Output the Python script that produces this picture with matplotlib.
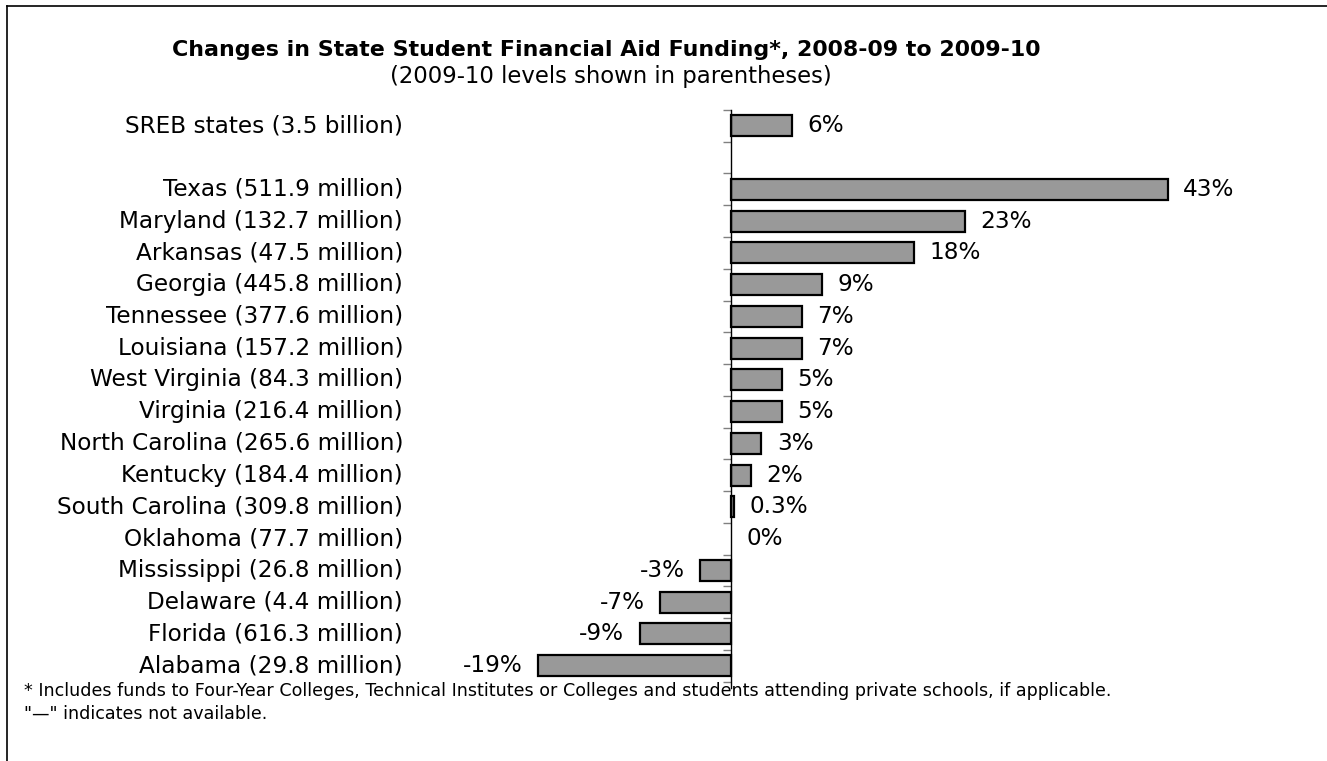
import matplotlib
matplotlib.use('Agg')
import matplotlib.pyplot as plt
from matplotlib.lines import Line2D
import matplotlib.transforms as mtransforms

plt.rcParams['font.family'] = ['DejaVu Sans']

# data (top to bottom, None = blank spacer row)
states = ['SREB states (3.5 billion)', None,
          'Texas (511.9 million)', 'Maryland (132.7 million)', 'Arkansas (47.5 million)',
          'Georgia (445.8 million)', 'Tennessee (377.6 million)', 'Louisiana (157.2 million)',
          'West Virginia (84.3 million)', 'Virginia (216.4 million)',
          'North Carolina (265.6 million)', 'Kentucky (184.4 million)',
          'South Carolina (309.8 million)', 'Oklahoma (77.7 million)',
          'Mississippi (26.8 million)', 'Delaware (4.4 million)',
          'Florida (616.3 million)', 'Alabama (29.8 million)']
changes = [6, None, 43, 23, 18, 9, 7, 7, 5, 5, 3, 2, 0.3, 0, -3, -7, -9, -19]
value_labels = ['6%', None, '43%', '23%', '18%', '9%', '7%', '7%', '5%', '5%',
                '3%', '2%', '0.3%', '0%', '-3%', '-7%', '-9%', '-19%']

fs = 16.7

fig = plt.figure(figsize=(13.27, 7.61), dpi=100)
ax = fig.add_axes([0.3824, 0.0960, 0.5512, 0.7595])

for i, (v, lab) in enumerate(zip(changes, value_labels)):
    if v is None:
        continue
    if v != 0:
        ax.barh(i, v, height=0.66, color='#999999', edgecolor='black', linewidth=1.6)
    if v >= 0:
        ax.annotate(lab, (v, i), xytext=(11, 0), textcoords='offset points',
                    ha='left', va='center', fontsize=fs)
    else:
        ax.annotate(lab, (v, i), xytext=(-11, 0), textcoords='offset points',
                    ha='right', va='center', fontsize=fs)

# category labels, right aligned at a fixed figure x
trans = mtransforms.blended_transform_factory(fig.transFigure, ax.transData)
for i, name in enumerate(states):
    if name:
        ax.text(0.3037, i, name, transform=trans, ha='right', va='center', fontsize=fs)

ax.set_xlim(-22, 50)
ax.set_ylim(17.7, -0.5)
ax.set_yticks([k - 0.5 for k in range(19)])
ax.set_yticklabels([])
ax.tick_params(axis='y', direction='out', length=6, width=1, color='#808080')
ax.set_xticks([])
for s in ['top', 'right', 'bottom']:
    ax.spines[s].set_visible(False)
ax.spines['left'].set_position(('data', 0))
ax.spines['left'].set_linewidth(1)

fig.text(0.4567, 0.934, 'Changes in State Student Financial Aid Funding*, 2008-09 to 2009-10',
         ha='center', va='center', fontsize=15.9, fontweight='bold')
fig.text(0.4605, 0.900, '(2009-10 levels shown in parentheses)',
         ha='center', va='center', fontsize=16.4)

fig.text(0.018, 0.092, '* Includes funds to Four-Year Colleges, Technical Institutes or Colleges '
         'and students attending private schools, if applicable.',
         ha='left', va='center', fontsize=12.6)
fig.text(0.018, 0.062, '"\u2014" indicates not available.', ha='left', va='center', fontsize=12.6)

# open frame around the figure (top and left only)
fig.add_artist(Line2D([0.0053, 1.0], [0.9921, 0.9921], color='black', linewidth=1.2))
fig.add_artist(Line2D([0.0053, 0.0053], [0.0, 0.9921], color='black', linewidth=1.2))

fig.savefig('out.png', dpi=100)
